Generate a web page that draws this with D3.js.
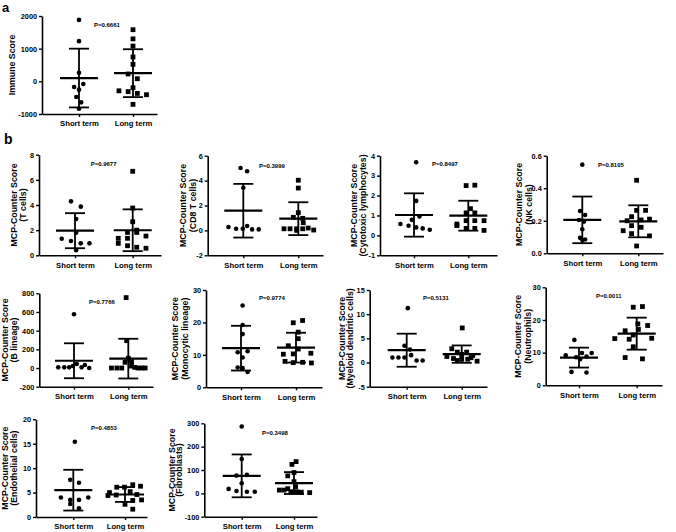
<!DOCTYPE html>
<html><head><meta charset="utf-8">
<script src="https://cdn.jsdelivr.net/npm/d3@7"></script>
<style>body{margin:0;background:#fff}svg text{font-family:"Liberation Sans",Arial,sans-serif;font-weight:bold;fill:#000}</style>
</head><body>
<svg id="c" width="676" height="532"></svg>
<script>
const groups = ["Short term", "Long term"];

// Panel a: Immune score
const immShort = [1880, 1230, 265, -82, -173, -255, -480, -643, -837];
const immShortJ = [0, 0, 0, 0.08, -0.09, 0, -0.05, 0.04, 0];
const immLong = [1580, 1300, 1080, 745, 520, 225, 80, -195, -290, -315, -370, -410, -705];
const immLongJ = [0, 0, 0, 0, 0, -0.09, 0.08, 0, -0.26, -0.09, 0.08, 0.25, 0];
// T cells
const tShort = [4.29, 3.87, 2.89, 1.80, 1.32, 1.14, 0.95, 0.95, 0.40];
const tShortJ = [-0.07, 0.10, 0.02, 0.02, -0.23, -0.07, 0.10, 0.25, 0.02];
const tLong = [6.68, 3.76, 2.67, 2.0, 1.82, 1.82, 1.53, 1.35, 0.95, 1.35, 0.76, 0.64, 0.56];
const tLongJ = [0, 0, 0, 0.07, -0.09, 0.07, 0.23, -0.25, -0.25, -0.09, -0.09, 0.07, 0.23];
// CD8 T cells
const cd8Short = [5.01, 4.75, 3.43, 0.27, 0.13, 0.13, 0.35, 0.08, 0.08];
const cd8ShortJ = [-0.05, 0.07, 0, -0.27, -0.13, -0.01, 0.07, 0.16, 0.28];
const cd8Long = [4.03, 3.40, 1.43, 1.05, 0.97, 0.62, 0.13, 0.13, 0.13, 0.13, 0.19, 0.03, 0.0];
const cd8LongJ = [0, 0, 0, -0.09, 0.08, 0.09, -0.26, -0.15, -0.03, 0.08, 0.18, 0.28, -0.03];
// Cytotoxic lymphocytes
const cytShort = [3.67, 1.73, 0.95, 0.78, 0.57, 0.48, 0.40, 0.35, 0.28];
const cytShortJ = [0.04, 0.04, 0.10, -0.04, -0.25, -0.10, 0.04, 0.16, 0.29];
const cytLong = [2.50, 2.52, 1.34, 1.13, 1.13, 0.57, 0.49, 0.74, 0.74, 0.74, 0.35, 0.35, 0.25];
const cytLongJ = [-0.04, 0.12, 0.04, -0.04, 0.12, -0.21, -0.21, -0.04, 0.12, 0.29, -0.04, 0.12, 0.29];
// NK cells
const nkShort = [0.545, 0.26, 0.235, 0.205, 0.195, 0.148, 0.095, 0.085, 0.082];
const nkShortJ = [0, -0.04, 0.05, -0.06, 0.03, 0, -0.04, 0.05, 0];
const nkLong = [0.449, 0.264, 0.264, 0.225, 0.21, 0.205, 0.20, 0.170, 0.160, 0.139, 0.121, 0.107, 0.045];
const nkLongJ = [-0.03, -0.03, 0.13, -0.12, 0.2, 0.05, -0.2, -0.12, 0.05, -0.27, -0.12, 0.2, -0.03];
// B lineage
const bShort = [575, 7, 7, 7, 21, 43, 7, 32, 0];
const bShortJ = [0, -0.29, -0.18, -0.09, -0.02, 0.05, 0.14, 0.20, 0.28];
const bLong = [754, 293, 104, 68, 61, 21, 7, 0, 0, 0, 0, 0, 0];
const bLongJ = [-0.04, -0.03, 0, 0.06, -0.06, 0.06, 0.12, -0.31, -0.21, -0.12, 0.18, 0.25, 0.31];
// Monocytic lineage
const monoShort = [25.2, 19.2, 16.4, 10.8, 11.1, 9.2, 6.1, 5.9, 4.7];
const monoShortJ = [0.03, 0.03, 0.03, -0.06, 0.12, 0.03, -0.06, 0.03, 0.12];
const monoLong = [20.6, 19.9, 17.0, 15.0, 12.8, 11.8, 10.5, 10.3, 10.2, 8.0, 7.7, 7.6, 7.5];
const monoLongJ = [0.12, -0.05, 0.04, 0.04, -0.14, 0.04, 0.27, -0.05, -0.23, -0.2, 0.12, -0.05, 0.28];
// Myeloid dendritic cells
const mdShort = [11.25, 3.47, 2.70, 1.04, 1.04, 1.04, 1.53, 0.42, 0.42];
const mdShortJ = [0.02, -0.04, 0.06, -0.26, -0.15, -0.04, 0.08, 0.18, 0.29];
const mdLong = [7.15, 2.85, 2.15, 2.15, 1.67, 1.46, 1.25, 1.0, 0.83, 0.69, 0.69, 0.42, 0.28];
const mdLongJ = [0.01, -0.18, -0.08, 0.09, 0, 0.2, -0.27, 0.17, -0.15, 0, 0.11, -0.08, 0.28];
// Neutrophils
const neuShort = [13.9, 9.2, 9.9, 9.9, 8.6, 8.8, 8.0, 4.1, 3.9];
const neuShortJ = [-0.08, -0.23, 0.05, 0.22, -0.05, 0.13, 0.02, -0.13, 0.13];
const neuLong = [23.9, 24.1, 18.8, 18.3, 16.7, 17.1, 14.4, 14.3, 14.1, 15.4, 11.8, 8.5, 8.1];
const neuLongJ = [-0.06, 0.10, 0.02, 0.19, -0.20, 0.03, 0.26, -0.38, -0.13, -0.06, -0.06, -0.20, 0.10];
// Endothelial cells
const endoShort = [15.4, 7.6, 7.0, 4.0, 3.5, 3.5, 4.0, 2.66, 1.77];
const endoShortJ = [0.03, -0.06, 0.11, -0.24, -0.06, 0.11, 0.29, -0.06, 0.11];
const endoLong = [6.6, 6.3, 6.1, 6.1, 5.2, 5.0, 4.6, 4.5, 4.4, 3.5, 3.4, 2.6, 1.6];
const endoLongJ = [0.15, 0.3, -0.16, -0.01, 0.1, -0.3, 0.23, -0.17, -0.33, 0.32, 0.15, 0, 0.15];
// Fibroblasts
const fibShort = [286, 147, 76, 79, 43, 19, 10, 7, 7];
const fibShortJ = [0, 0, -0.10, 0.10, 0, -0.25, -0.10, 0.10, 0.25];
const fibLong = [136, 124, 89, 75, 50, 29, 20, 14, 14, 7, 7, 5, 3];
const fibLongJ = [0.04, -0.04, 0, -0.12, 0, 0.03, -0.12, -0.28, -0.19, -0.06, 0.05, 0.14, 0.30];

const pValues = ["P=0.6661","P=0.9677","P=0.3999","P=0.8497","P=0.8105","P=0.7766","P=0.9774","P=0.5131","P=0.0011","P=0.4853","P=0.3498"];
const titles = [
  ["Immune Score"],
  ["MCP-Counter Score","(T cells)"],
  ["MCP-Counter Score","(CD8 T cells)"],
  ["MCP-Counter Score","(Cytotoxic lymphocytes)"],
  ["MCP-Counter Score","(NK cells)"],
  ["MCP-Counter Score","(B lineage)"],
  ["MCP-Counter Score","(Monocytic lineage)"],
  ["MCP-Counter Score","(Myeloid dendritic cells)"],
  ["MCP-Counter Score","(Neutrophils)"],
  ["MCP-Counter Score","(Endothelial cells)"],
  ["MCP-Counter Score","(Fibroblasts)"]
];
const yDomains = [[-1000,2000],[0,8],[-2,6],[-1,4],[0,0.6],[-200,800],[0,30],[-5,15],[0,30],[0,20],[-100,300]];
const yTicks = [
  [-1000,0,1000,2000],[0,2,4,6,8],[-2,0,2,4,6],[-1,0,1,2,3,4],[0,0.2,0.4,0.6],
  [-200,0,200,400,600,800],[0,10,20,30],[-5,0,5,10,15],[0,10,20,30],[0,5,10,15,20],[-100,0,100,200,300]
];
const shortSets = [immShort,tShort,cd8Short,cytShort,nkShort,bShort,monoShort,mdShort,neuShort,endoShort,fibShort];
const shortJit = [immShortJ,tShortJ,cd8ShortJ,cytShortJ,nkShortJ,bShortJ,monoShortJ,mdShortJ,neuShortJ,endoShortJ,fibShortJ];
const longSets = [immLong,tLong,cd8Long,cytLong,nkLong,bLong,monoLong,mdLong,neuLong,endoLong,fibLong];
const longJit = [immLongJ,tLongJ,cd8LongJ,cytLongJ,nkLongJ,bLongJ,monoLongJ,mdLongJ,neuLongJ,endoLongJ,fibLongJ];

// layout (pixels)
const layout = [
  {ax:42, end:157, cS:79, cL:133, top:16, bot:114, px:94, py:27, t:[-30]},
  {ax:39, end:161, cS:75, cL:132.7, top:154.7, bot:255.3, px:90.7, py:166, t:[-25,-16]},
  {ax:207.7, end:323, cS:243.3, cL:298.3, top:155.7, bot:255.3, px:259, py:168, t:[-24.4,-15]},
  {ax:380, end:497, cS:414, cL:468.3, top:155.7, bot:255.3, px:432, py:166, t:[-25.7,-16.7]},
  {ax:546.7, end:663, cS:582.3, cL:638.3, top:155.7, bot:253.3, px:598, py:166.7, t:[-28,-18]},
  {ax:39.3, end:153, cS:74, cL:128.3, top:293.3, bot:386.7, px:89, py:304, t:[-34,-25]},
  {ax:206, end:322, cS:241, cL:296, top:290, bot:387.3, px:259, py:300, t:[-31,-21]},
  {ax:369.7, end:487, cS:406.7, cL:461.7, top:290, bot:386.7, px:423, py:300, t:[-28,-20]},
  {ax:545.7, end:662, cS:579, cL:636.7, top:287.3, bot:385.3, px:596, py:298, t:[-28,-18]},
  {ax:36, end:147, cS:73.3, cL:125, top:419.3, bot:517, px:91, py:429.7, t:[-31.5,-22.3]},
  {ax:204.3, end:317, cS:241.7, cL:294, top:423.3, bot:516.7, px:262, py:434.7, t:[-32.6,-25]}
];

const svg = d3.select("#c");
svg.append("text").attr("x", 2).attr("y", 12).style("font-size", "13px").text("a");
svg.append("text").attr("x", 4).attr("y", 144).style("font-size", "14px").text("b");

function stats(v) {
  return {m: d3.mean(v), s: d3.deviation(v)};
}

layout.forEach((L, i) => {
  const g = svg.append("g");
  const y = d3.scaleLinear().domain(yDomains[i]).range([L.bot, L.top]);
  const sp = L.cL - L.cS;
  const x = d3.scaleLinear().domain([(L.ax - L.cS) / sp, (L.end - L.cS) / sp]).range([L.ax, L.end]);
  const fmt = i === 4 ? (d => d.toFixed(1)) : (d => String(d));

  const ya = g.append("g").attr("transform", `translate(${L.ax},0)`)
    .call(d3.axisLeft(y).tickValues(yTicks[i]).tickSize(3).tickSizeOuter(0).tickPadding(2).tickFormat(fmt));
  ya.select(".domain").attr("stroke-width", 1.6);
  ya.selectAll(".tick line").attr("stroke-width", 1.4);
  ya.selectAll(".tick text").style("font-size", "7.3px").style("font-family", null);

  const xa = g.append("g").attr("transform", `translate(0,${L.bot})`)
    .call(d3.axisBottom(x).tickValues([0, 1]).tickSize(3).tickSizeOuter(0).tickPadding(4).tickFormat(d => groups[d]));
  xa.select(".domain").attr("stroke-width", 1.6);
  xa.selectAll(".tick line").attr("stroke-width", 1.4);
  xa.selectAll(".tick text").style("font-size", "7.7px").style("font-family", null);

  // y titles
  const cy = (L.top + L.bot) / 2;
  titles[i].forEach((t, k) => {
    g.append("text")
      .attr("transform", `translate(${L.ax + L.t[k]},${cy}) rotate(-90)`)
      .attr("text-anchor", "middle").attr("dominant-baseline", "central")
      .style("font-size", "8.8px").text(t);
  });

  // P value
  g.append("text").attr("x", L.px).attr("y", L.py).style("font-size", "6px").text(pValues[i]);

  // series
  const sets = [[shortSets[i], shortJit[i]], [longSets[i], longJit[i]]];
  sets.forEach(([vals, jit], gi) => {
    const st = stats(vals);
    const cx = x(gi);
    const mh = 19, ch = 10;
    if (gi === 0) {
      g.selectAll(null).data(vals).enter().append("circle")
        .attr("cx", (d, k) => x(gi + jit[k])).attr("cy", d => y(d)).attr("r", 2.3).attr("fill", "#000");
    } else {
      g.selectAll(null).data(vals).enter().append("rect")
        .attr("x", (d, k) => x(gi + jit[k]) - 2.4).attr("y", d => y(d) - 2.4)
        .attr("width", 4.8).attr("height", 4.8).attr("fill", "#000");
    }
    const eg = g.append("g").attr("stroke", "#000");
    eg.append("line").attr("x1", cx).attr("x2", cx).attr("y1", y(st.m + st.s)).attr("y2", y(st.m - st.s)).attr("stroke-width", 1.8);
    eg.append("line").attr("x1", cx - mh).attr("x2", cx + mh).attr("y1", y(st.m)).attr("y2", y(st.m)).attr("stroke-width", 2.2);
    eg.append("line").attr("x1", cx - ch).attr("x2", cx + ch).attr("y1", y(st.m + st.s)).attr("y2", y(st.m + st.s)).attr("stroke-width", 1.8);
    eg.append("line").attr("x1", cx - ch).attr("x2", cx + ch).attr("y1", y(st.m - st.s)).attr("y2", y(st.m - st.s)).attr("stroke-width", 1.8);
  });
});
</script></body></html>
